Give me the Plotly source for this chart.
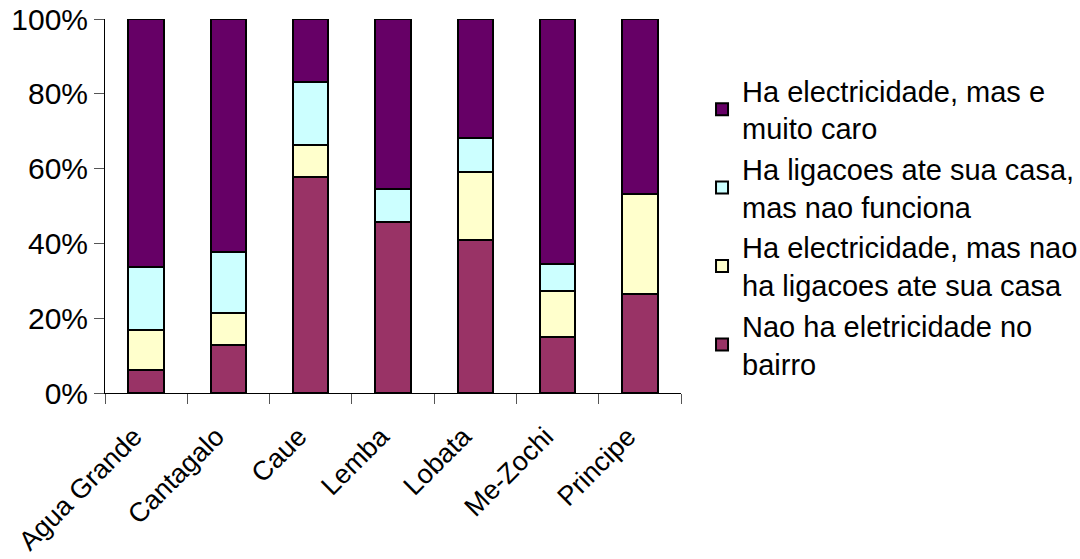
import plotly.graph_objects as go

categories = ["Agua Grande", "Cantagalo", "Caue", "Lemba", "Lobata", "Me-Zochi", "Principe"]

nao_ha = [6.1, 12.9, 57.8, 45.6, 41.0, 15.0, 26.6]
sem_ligacao = [10.8, 8.5, 8.5, 0.0, 18.1, 12.3, 26.7]
nao_funciona = [16.8, 16.2, 16.9, 8.9, 9.1, 7.1, 0.0]
muito_caro = [66.3, 62.4, 16.8, 45.5, 31.8, 65.6, 46.7]

series_names = [
    "Nao ha eletricidade no<br>bairro",
    "Ha electricidade, mas nao<br>ha ligacoes ate sua casa",
    "Ha ligacoes ate sua casa,<br>mas nao funciona",
    "Ha electricidade, mas e<br>muito caro",
]
series_values = [nao_ha, sem_ligacao, nao_funciona, muito_caro]
series_colors = ["#993366", "#FFFFCC", "#CCFFFF", "#660066"]

fig = go.Figure()
for name, vals, col in zip(series_names, series_values, series_colors):
    fig.add_trace(go.Bar(
        x=categories,
        y=[v / 100 for v in vals],
        name=name,
        marker=dict(color=col, line=dict(color="black", width=2)),
        width=0.43,
    ))

font = dict(family="Liberation Sans, Arial, sans-serif", size=30, color="black")
xfont = dict(family="Liberation Sans, Arial, sans-serif", size=27, color="black")

fig.update_layout(
    barmode="stack",
    width=1080,
    height=559,
    paper_bgcolor="white",
    plot_bgcolor="white",
    font=font,
    margin=dict(l=105, r=399, t=19, b=166, autoexpand=False),
    showlegend=True,
    legend=dict(
        traceorder="reversed",
        x=1.0365,
        xanchor="left",
        y=0.877,
        yanchor="top",
        font=dict(family="Liberation Sans, Arial, sans-serif", size=29, color="black"),
        tracegroupgap=0,
        itemwidth=30,
        bgcolor="rgba(0,0,0,0)",
    ),
    xaxis=dict(
        showline=True,
        linecolor="black",
        linewidth=1,
        ticks="outside",
        tickson="boundaries",
        ticklen=10,
        tickcolor="#555555",
        tickangle=-45,
        ticklabelshift=-12,
        ticklabelstandoff=16,
        showgrid=False,
        tickfont=xfont,
        automargin=False,
    ),
    yaxis=dict(
        range=[0, 1],
        dtick=0.2,
        tickformat=".0%",
        showline=True,
        linecolor="black",
        linewidth=1,
        ticks="outside",
        ticklen=10,
        tickcolor="#555555",
        showgrid=False,
        zeroline=False,
        tickfont=font,
        automargin=False,
    ),
)

fig.write_html(
    "out.html",
    config={"displayModeBar": False},
    post_script="document.body.style.margin='0';document.body.style.overflow='hidden';",
)
